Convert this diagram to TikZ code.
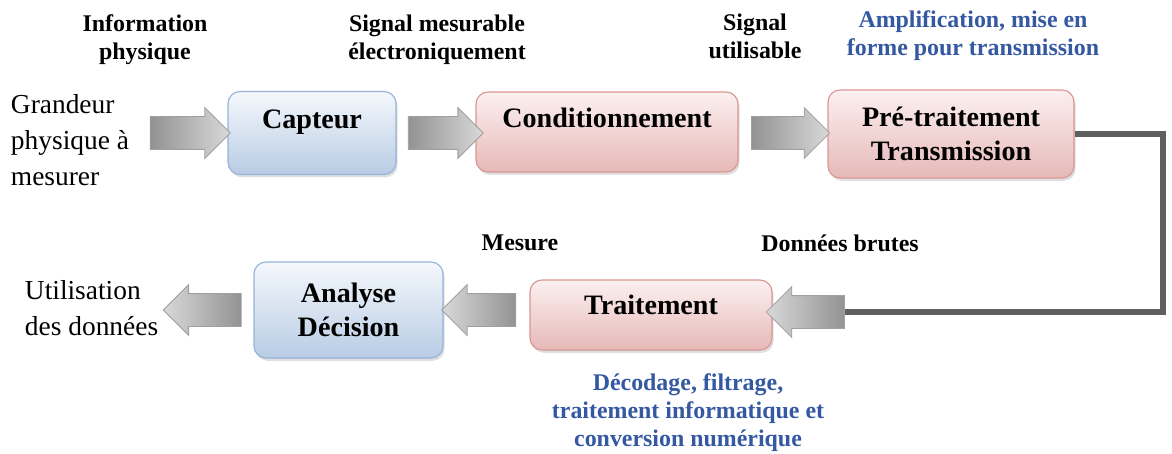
\documentclass[tikz,border=0pt]{standalone}
\usepackage{fontspec}
\setmainfont{Liberation Serif}
\usetikzlibrary{shapes.arrows,shadows}

\definecolor{bluetop}{RGB}{245,248,252}
\definecolor{bluebot}{RGB}{184,204,228}
\definecolor{blueline}{RGB}{149,179,215}
\definecolor{pinktop}{RGB}{252,240,240}
\definecolor{pinkbot}{RGB}{230,185,184}
\definecolor{pinkline}{RGB}{217,150,148}
\definecolor{notecol}{RGB}{52,88,162}
\definecolor{wirecol}{RGB}{95,95,95}

\tikzset{
  block/.style={draw, line width=0.8pt, rounded corners=0.3cm,
    align=center, font=\fontsize{20}{24}\selectfont\bfseries,
    drop shadow={shadow xshift=0.04cm, shadow yshift=-0.07cm, opacity=0.25}},
  blueblock/.style={block, draw=blueline, top color=bluetop, bottom color=bluebot},
  pinkblock/.style={block, draw=pinkline, top color=pinktop, bottom color=pinkbot},
  raised/.style={text height=0.5cm, text depth=#1},
  fatarrow/.style={single arrow, draw=gray!75, line width=0.6pt,
    inner xsep=0pt, inner ysep=0.4cm, single arrow head extend=0.225cm,
    single arrow tip angle=90, minimum height=1.95cm},
  fatright/.style={fatarrow, left color=gray!85, right color=gray!30},
  fatleft/.style={fatarrow, shape border rotate=180, left color=gray!30, right color=gray!85},
  wire/.style={draw=wirecol, line width=0.15cm},
  tag/.style={align=center, font=\fontsize{17}{20}\selectfont\bfseries},
  note/.style={tag, text=notecol},
  plain/.style={align=left, font=\fontsize{19.5}{25.5}\selectfont}
}

\begin{document}
\begin{tikzpicture}
  \useasboundingbox (0,0) rectangle (29.3,-11.35);

  % chain of blocks, top row
  \node[blueblock, raised=0.72cm, minimum width=4.2cm, minimum height=2.075cm] (capteur) at (7.8,-3.325) {Capteur};
  \node[pinkblock, raised=0.72cm, minimum width=6.55cm, minimum height=2cm] (cond) at (15.175,-3.3) {Conditionnement};
  \node[pinkblock, minimum width=6.15cm, minimum height=2.2cm] (pre) at (23.775,-3.35) {Pré-traitement\\Transmission};

  % bottom row
  \node[pinkblock, raised=0.55cm, minimum width=6.05cm, minimum height=1.75cm] (trait) at (16.275,-7.875) {Traitement};
  \node[blueblock, minimum width=4.725cm, minimum height=2.4cm] (analyse) at (8.7125,-7.75) {Analyse\\Décision};

  % block arrows
  \node[fatright, minimum height=2cm] (in) at (4.55,-3.325) {};
  \node[fatright, minimum height=1.875cm] (a1) at (10.94,-3.325) {};
  \node[fatright] (a2) at (19.56,-3.325) {};
  \node[fatleft] (feed) at (20.34,-7.8) {};
  \node[fatleft, minimum height=1.85cm] (a3) at (12.175,-7.75) {};
  \node[fatleft] (out) at (5.26,-7.75) {};

  % return line to the second row
  \draw[wire] (pre.east) -- ++(2.2,0) |- (feed.east);

  % labels
  \node[tag] (info) at (3.625,-1.0) {Information\\physique};
  \node[tag] (mesurable) at (10.925,-1.0) {Signal mesurable\\électroniquement};
  \node[tag] (utilisable) at (18.875,-0.9) {Signal\\utilisable};
  \node[note] (ampli) at (24.325,-0.9) {Amplification, mise en\\forme pour transmission};
  \node[plain, anchor=west] (grandeur) at (0.15,-3.5) {Grandeur\\physique à\\mesurer};
  \node[plain, anchor=west] (usage) at (0.5,-7.7) {Utilisation\\des données};
  \node[tag] (mesure) at (13.0,-6.075) {Mesure};
  \node[tag] (brutes) at (21.0,-6.075) {Données brutes};
  \node[note] (decodage) at (17.2,-10.325) {Décodage, filtrage,\\traitement informatique et\\conversion numérique};
\end{tikzpicture}
\end{document}
